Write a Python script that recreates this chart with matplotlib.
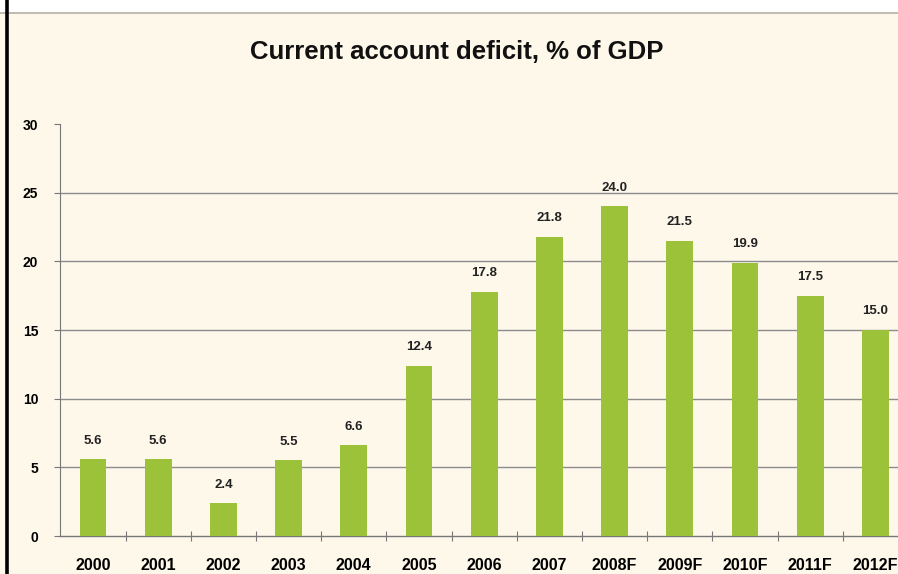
import matplotlib
matplotlib.use("Agg")
import matplotlib.pyplot as plt
from matplotlib import font_manager
from matplotlib.lines import Line2D

years = ["2000", "2001", "2002", "2003", "2004", "2005", "2006", "2007",
         "2008F", "2009F", "2010F", "2011F", "2012F"]
deficit = [5.6, 5.6, 2.4, 5.5, 6.6, 12.4, 17.8, 21.8, 24.0, 21.5, 19.9, 17.5, 15.0]
y_ticks = [0, 5, 10, 15, 20, 25, 30]

installed = {f.name for f in font_manager.fontManager.ttflist}
fam = [f for f in ["Liberation Sans Narrow", "Liberation Sans", "DejaVu Sans"] if f in installed]
plt.rcParams["font.family"] = fam

cream = "#fdf8ea"
bar_color = "#9cc23a"

fig = plt.figure(figsize=(8.98, 5.74), dpi=100)
fig.patch.set_facecolor(cream)

# white strip at the top and the dark frame line on the left
fig.patches.append(plt.Rectangle((0, 1 - 12 / 574), 1, 12 / 574, transform=fig.transFigure,
                                 facecolor="white", edgecolor="none", zorder=0))
fig.lines.append(Line2D([0, 1], [1 - 12.5 / 574] * 2, transform=fig.transFigure,
                        color="#b5b0a5", lw=1.2))
fig.lines.append(Line2D([6.5 / 898] * 2, [0, 1], transform=fig.transFigure,
                        color="black", lw=2.6))

ax = fig.add_axes([60.4 / 898, 38 / 574, 847.6 / 898, 412 / 574])
ax.set_facecolor(cream)

x = list(range(len(years)))
ax.bar(x, deficit, width=0.41, color=bar_color, zorder=3)

for xi, v in zip(x, deficit):
    ax.annotate(f"{v:.1f}", (xi, v), xytext=(0, 9), textcoords="offset points",
                ha="center", va="bottom", fontsize=9.5, fontweight="bold", color="#222222")

ax.set_xlim(-0.5, len(years) - 0.5)
ax.set_ylim(0, 30)
ax.set_yticks(y_ticks)
ax.set_yticklabels([str(t) for t in y_ticks], fontsize=10, fontweight="bold")
ax.set_xticks(x)
ax.set_xticklabels(years, fontsize=11.5, fontweight="bold")
ax.tick_params(axis="x", length=0, pad=16)
ax.tick_params(axis="y", length=4, width=0.8, color="#777777", pad=12)

# separators between categories on the baseline
ax.set_xticks([i + 0.5 for i in x[:-1]], minor=True)
ax.tick_params(axis="x", which="minor", direction="inout", length=7, width=0.8, color="#777777")

for g in y_ticks[1:-1]:
    ax.axhline(g, color="#8c8c8c", lw=1.0, zorder=1)

for s in ["top", "right"]:
    ax.spines[s].set_visible(False)
ax.spines["left"].set_color("#777777")
ax.spines["left"].set_linewidth(0.8)
ax.spines["bottom"].set_color("#777777")
ax.spines["bottom"].set_linewidth(1.0)

fig.text(457 / 898, 1 - 52 / 574, "Current account deficit, % of GDP", ha="center",
         va="center", fontsize=18.5, fontweight="bold", color="#111111")

fig.savefig("out.png", dpi=100, facecolor=fig.get_facecolor())
